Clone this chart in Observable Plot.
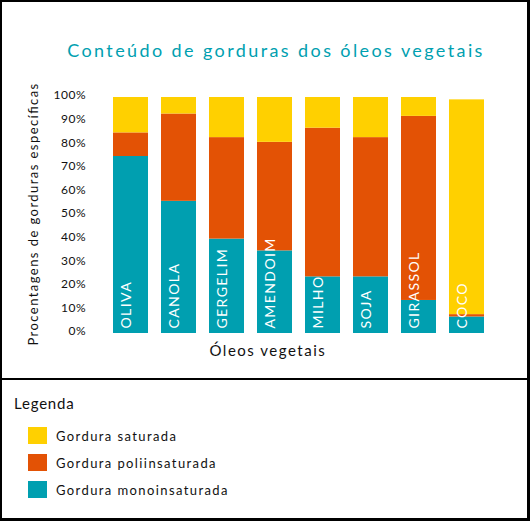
<!DOCTYPE html>
<html>
<head>
<meta charset="utf-8">
<script src="https://cdn.jsdelivr.net/npm/d3@7"></script>
<script src="https://cdn.jsdelivr.net/npm/@observablehq/plot@0.6"></script>
<style>
  body { margin: 0; background: #fff; font-family: Lato, sans-serif; }
  #wrap { position: relative; width: 530px; height: 521px; box-sizing: border-box; border-style: solid; border-color: #000; border-width: 2px 3px 3px 2px; overflow: hidden; background: #fff; }
  #title { position: absolute; left: 21px; width: 506px; top: 38px; text-align: center; color: #00a0b0; font-size: 18px; letter-spacing: 2.4px; line-height: 20px; }
  #chart { position: absolute; left: 0; top: 0; }
  #divider { position: absolute; left: 0; right: 0; top: 376px; height: 2px; background: #000; }
  #legend { position: absolute; left: 0; top: 378px; right: 0; bottom: 0; }
  #legend .lt { position: absolute; left: 12px; top: 14px; font-size: 15px; letter-spacing: 0.8px; color: #111; line-height: 18px; }
  #legend .row { position: absolute; left: 26px; height: 17px; display: flex; align-items: center; }
  #legend .sw { width: 19px; height: 17px; margin-right: 9px; }
  #legend .lab { font-size: 13px; letter-spacing: 1.4px; color: #111; }
</style>
</head>
<body>
<div id="wrap">
  <div id="title"></div>
  <div id="chart"></div>
  <div id="divider"></div>
  <div id="legend"></div>
</div>
<script>
const titleText = "Conteúdo de gorduras dos óleos vegetais";
const xTitle = "Óleos vegetais";
const yTitle = "Procentagens de gorduras específicas";
const legendTitle = "Legenda";

const oils = ["OLIVA", "CANOLA", "GERGELIM", "AMENDOIM", "MILHO", "SOJA", "GIRASSOL", "COCO"];
const mono = [75, 56, 40, 35, 24, 24, 14, 7];
const poly = [10, 37, 43, 46, 63, 59, 78, 1];
const sat  = [15,  7, 17, 19, 13, 17,  8, 91];

const seriesNames = ["Gordura monoinsaturada", "Gordura poliinsaturada", "Gordura saturada"];
const seriesColors = ["#009fb0", "#e35205", "#ffd000"];
const legendOrder = ["Gordura saturada", "Gordura poliinsaturada", "Gordura monoinsaturada"];

const yTicks = [0, 10, 20, 30, 40, 50, 60, 70, 80, 90, 100];

const seriesValues = [mono, poly, sat];
const data = oils.flatMap((oil, i) => seriesNames.map((s, k) => ({oil, type: s, value: seriesValues[k][i]})));

document.getElementById("title").textContent = titleText;

const chart = Plot.plot({
  width: 525,
  height: 376,
  marginLeft: 108,
  marginRight: 41,
  marginTop: 95,
  marginBottom: 45,
  style: {fontFamily: "Lato, sans-serif", background: "transparent", color: "#111"},
  x: {domain: oils, paddingInner: 0.28, paddingOuter: 0, axis: null},
  y: {domain: [0, 100], axis: null},
  color: {domain: seriesNames, range: seriesColors},
  marks: [
    Plot.barY(data, {x: "oil", y: "value", fill: "type", order: seriesNames}),
    Plot.axisY({ticks: yTicks, tickSize: 0, tickPadding: 25, tickFormat: d => d + "%", label: null, fontSize: 12, dy: -2}),
    Plot.text(oils, {x: d => d, frameAnchor: "bottom", rotate: -90, textAnchor: "start", dy: -5, fill: "white", fontSize: 14}),
    Plot.text([xTitle], {frameAnchor: "bottom", textAnchor: "start", dx: -89, dy: 22, fontSize: 15}),
    Plot.text([yTitle], {frameAnchor: "left", rotate: -90, textAnchor: "start", dx: -77, dy: 130, fontSize: 13})
  ]
});
document.getElementById("chart").appendChild(chart);

// extra tracking (letter spacing) per text group, applied via textLength
function track(group, s) {
  if (!group) return;
  group.querySelectorAll("text").forEach(t => {
    const n = t.textContent.length;
    const len = t.getComputedTextLength();
    t.setAttribute("textLength", len + s * (n - 1));
    t.setAttribute("lengthAdjust", "spacing");
  });
}
const textGroups = chart.querySelectorAll('g[aria-label="text"]');
track(textGroups[0], 1.4);   // bar labels
track(textGroups[1], 1.5);   // x title
track(textGroups[2], 1.4);   // y title
track(chart.querySelector('g[aria-label="y-axis tick label"]'), 0.5);

const legend = document.getElementById("legend");
const lt = document.createElement("div");
lt.className = "lt";
lt.textContent = legendTitle;
legend.appendChild(lt);
legendOrder.forEach((name, i) => {
  const row = document.createElement("div");
  row.className = "row";
  row.style.top = (47 + i * 27) + "px";
  const sw = document.createElement("div");
  sw.className = "sw";
  sw.style.background = seriesColors[seriesNames.indexOf(name)];
  const lab = document.createElement("span");
  lab.className = "lab";
  lab.textContent = name;
  row.appendChild(sw);
  row.appendChild(lab);
  legend.appendChild(row);
});
</script>
</body>
</html>
